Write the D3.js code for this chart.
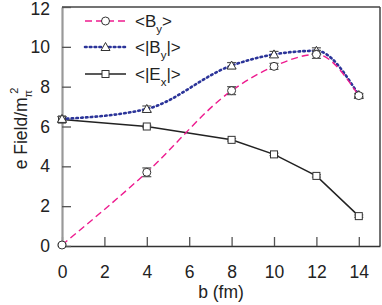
<!DOCTYPE html>
<html><head><meta charset="utf-8">
<script src="https://cdn.jsdelivr.net/npm/d3@7"></script>
<style>body{margin:0;background:#fff}svg{display:block}text{font-family:"Liberation Sans",Arial,sans-serif;fill:#222}</style>
</head><body>
<svg id="c" width="382" height="305"></svg>
<script>
const bValues = [0, 4, 8, 10, 12, 14];
const byMean = [0.05, 3.70, 7.80, 9.02, 9.62, 7.55];
const byErr = [0.05, 0.22, 0.20, 0.15, 0.20, 0.08];
const absByMean = [6.38, 6.88, 9.06, 9.62, 9.80, 7.58];
const absByErr = [0.12, 0.15, 0.15, 0.15, 0.15, 0.08];
const absExMean = [6.35, 6.00, 5.33, 4.60, 3.52, 1.50];
const absExErr = [0.15, 0.06, 0.06, 0.06, 0.06, 0.06];
const xTicks = [0, 2, 4, 6, 8, 10, 12, 14];
const yTicks = [0, 2, 4, 6, 8, 10, 12];

const svg = d3.select("#c");
const L = 62, R = 380, T = 7, B = 246;
const x = d3.scaleLinear().domain([0, 15]).range([L, R]);
const y = d3.scaleLinear().domain([0, 12]).range([B, T]);

// frame
svg.append("line").attr("x1", L).attr("x2", R).attr("y1", T).attr("y2", T).attr("stroke", "#444").attr("stroke-width", 1.5);
svg.append("line").attr("x1", R).attr("x2", R).attr("y1", T).attr("y2", B).attr("stroke", "#444").attr("stroke-width", 1.5);

// axes
const xAxis = svg.append("g").attr("transform", `translate(0,${B})`)
  .call(d3.axisBottom(x).tickValues(xTicks).tickSizeInner(-9).tickSizeOuter(0).tickPadding(20));
const yAxis = svg.append("g").attr("transform", `translate(${L},0)`)
  .call(d3.axisLeft(y).tickValues(yTicks).tickSizeInner(-9).tickSizeOuter(0).tickPadding(12));
xAxis.select(".domain").attr("stroke", "#333").attr("stroke-width", 1.5);
yAxis.select(".domain").attr("stroke", "#999").attr("stroke-width", 2.2);
xAxis.selectAll(".tick line").attr("stroke", "#555").attr("stroke-width", 1.3);
yAxis.selectAll(".tick line").attr("stroke", "#555").attr("stroke-width", 1.3);
svg.selectAll(".tick text").attr("font-size", 17.5).attr("fill", "#222").style("font-family", "Liberation Sans, Arial, sans-serif");
yAxis.selectAll(".tick text").filter(d => d === 12).attr("dy", "0.42em");

// axis labels
svg.append("text").attr("x", (L + R) / 2).attr("y", 298).attr("text-anchor", "middle").attr("font-size", 17.5).text("b (fm)");
const yl = svg.append("text").attr("transform", `translate(27,${(T + B) / 2 + 2}) rotate(-90)`).attr("text-anchor", "middle").attr("font-size", 17.5);
yl.append("tspan").text("e Field/m");
yl.append("tspan").attr("font-size", 11).attr("dy", 5).text("π");
yl.append("tspan").attr("font-size", 11).attr("dy", -14).attr("dx", -4).text("2");

function series(mean, err, color, dash, curve, width, marker) {
  const pts = bValues.map((b, i) => ({ b, v: mean[i], e: err[i] }));
  const line = d3.line().x(d => x(d.b)).y(d => y(d.v)).curve(curve);
  svg.append("path").datum(pts).attr("d", line).attr("fill", "none").attr("stroke", color)
    .attr("stroke-width", width).attr("stroke-dasharray", dash).attr("stroke-linecap", dash === "1.6,3.2" ? "round" : "butt");
  const g = svg.append("g");
  pts.forEach(d => {
    g.append("line").attr("x1", x(d.b)).attr("x2", x(d.b)).attr("y1", y(d.v - d.e)).attr("y2", y(d.v + d.e)).attr("stroke", "#555").attr("stroke-width", 1);
    [d.v - d.e, d.v + d.e].forEach(v => g.append("line").attr("x1", x(d.b) - 4.5).attr("x2", x(d.b) + 4.5).attr("y1", y(v)).attr("y2", y(v)).attr("stroke", "#555").attr("stroke-width", 1.2));
    marker(g, x(d.b), y(d.v));
  });
}
const circ = (g, cx, cy) => g.append("circle").attr("cx", cx).attr("cy", cy).attr("r", 4).attr("fill", "#fff").attr("stroke", "#333").attr("stroke-width", 1);
const tri = (g, cx, cy) => g.append("path").attr("d", `M${cx},${cy - 4.5}L${cx + 4.5},${cy + 3.5}L${cx - 4.5},${cy + 3.5}Z`).attr("fill", "#fff").attr("stroke", "#333").attr("stroke-width", 1);
const sq = (g, cx, cy) => g.append("rect").attr("x", cx - 3.5).attr("y", cy - 3.5).attr("width", 7).attr("height", 7).attr("fill", "#fff").attr("stroke", "#333").attr("stroke-width", 1);

series(absExMean, absExErr, "#222", null, d3.curveLinear, 1.5, sq);
series(absByMean, absByErr, "#2b3499", "1.6,3.2", d3.curveMonotoneX, 2.6, tri);
series(byMean, byErr, "#ee1b8f", "7,4", d3.curveMonotoneX, 1.4, circ);

// legend
const legend = [
  { name: "B", pre: "<", post: ">", color: "#ee1b8f", dash: "7,4", w: 1.4, m: circ, sub: "y" },
  { name: "B", pre: "<|", post: "|>", color: "#2b3499", dash: "1.6,3.2", w: 2.6, m: tri, sub: "y" },
  { name: "E", pre: "<|", post: "|>", color: "#222", dash: null, w: 1.5, m: sq, sub: "x" }
];
const ly = [21, 47, 74];
legend.forEach((d, i) => {
  svg.append("line").attr("x1", 85).attr("x2", 126).attr("y1", ly[i]).attr("y2", ly[i]).attr("stroke", d.color)
    .attr("stroke-width", d.w).attr("stroke-dasharray", d.dash).attr("stroke-linecap", d.dash === "1.6,3.2" ? "round" : "butt");
  d.m(svg, 105.5, ly[i]);
  const t = svg.append("text").attr("x", 135).attr("y", ly[i] + 5.5).attr("font-size", 17);
  t.append("tspan").text(d.pre + d.name);
  t.append("tspan").attr("font-size", 11.5).attr("dy", 6).text(d.sub);
  t.append("tspan").attr("dy", -6).text(d.post);
});
</script>
</body></html>
